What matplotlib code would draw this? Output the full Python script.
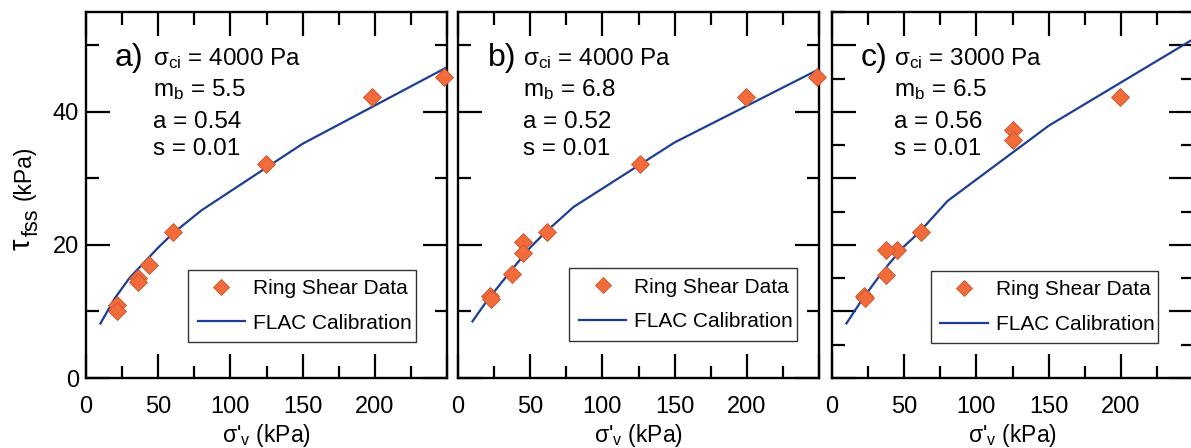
import matplotlib
matplotlib.use("Agg")
import matplotlib.pyplot as plt
from matplotlib.ticker import MultipleLocator, FuncFormatter

plt.rcParams['font.family'] = ['Liberation Sans', 'DejaVu Sans']
plt.rcParams['mathtext.default'] = 'regular'

# Ring shear measurements (effective vertical stress, steady-state shear strength)
ring_sigma_a = [248, 198.4, 124.8, 60.2, 43.7, 35.9, 36.3, 21.3, 21.3]
ring_tau_a = [45.3, 42.3, 32.2, 22.0, 17.0, 15.0, 14.4, 10.9, 10.1]

ring_sigma_b = [248.6, 199.5, 125.7, 61.6, 44.9, 44.9, 37.3, 22.2, 22.7]
ring_tau_b = [45.3, 42.3, 32.2, 22.0, 20.4, 18.8, 15.7, 12.3, 11.8]

ring_sigma_c = [199.3, 125.5, 125.5, 61.6, 44.9, 37.3, 37.3, 22.5, 22.9]
ring_tau_c = [42.3, 37.3, 35.7, 22.0, 19.3, 19.2, 15.5, 12.3, 12.0]

# FLAC calibration curves
flac_sigma = [10, 20, 30, 40, 50, 60, 80, 150, 250]
flac_tau_a = [8.2, 12.0, 15.0, 17.3, 19.6, 21.7, 25.2, 35.2, 46.7]
flac_tau_b = [8.5, 11.6, 14.3, 17.0, 19.6, 21.8, 25.7, 35.4, 46.4]
flac_tau_c = [8.2, 11.5, 14.5, 17.3, 19.8, 21.8, 26.6, 37.9, 50.9]

panel_tags = ["a)", "b)", "c)"]
sigma_ci = ["4000", "4000", "3000"]
m_b = ["5.5", "6.8", "6.5"]
a_vals = ["0.54", "0.52", "0.56"]
s_vals = ["0.01", "0.01", "0.01"]

x_ticklabels = ["0", "50", "100", "150", "200"]
y_ticklabels = ["0", "20", "40"]

DIAMOND = "#f26b3b"
DIAMOND_EDGE = "#c9542c"
LINE = "#1c3f95"

fig = plt.figure(figsize=(11.91, 4.48), dpi=100)
W, H = 1191, 448
ax_w = 361 / W
ax_h = 366 / H
bottom = 1 - 378 / H
lefts = [86 / W, 458 / W, 832 / W]

panels = [
    (ring_sigma_a, ring_tau_a, flac_tau_a),
    (ring_sigma_b, ring_tau_b, flac_tau_b),
    (ring_sigma_c, ring_tau_c, flac_tau_c),
]
tag_x = [0.080, 0.083, 0.078]
txt_x = [0.186, 0.179, 0.172]
leg_anchor = [(0.283, 0.098, 0.631, 0.211),
              (0.308, 0.102, 0.630, 0.211),
              (0.274, 0.095, 0.630, 0.211)]


def x_fmt(v, p):
    k = int(round(v / 50))
    return x_ticklabels[k] if 0 <= k < len(x_ticklabels) else ""


def y_fmt(v, p):
    k = int(round(v / 20))
    return y_ticklabels[k] if 0 <= k < len(y_ticklabels) else ""


for i, (rs, rt, ft) in enumerate(panels):
    ax = fig.add_axes([lefts[i], bottom, ax_w, ax_h])
    ax.plot(flac_sigma, ft, color=LINE, lw=1.6, label="FLAC Calibration", zorder=2)
    ax.plot(rs, rt, linestyle="none", marker="D", markersize=9.5,
            markerfacecolor=DIAMOND, markeredgecolor=DIAMOND_EDGE,
            markeredgewidth=0.6, label="Ring Shear Data", zorder=3,
            clip_on=False)
    ax.set_xlim(0, 250)
    ax.set_ylim(0, 55)

    ax.xaxis.set_major_locator(MultipleLocator(50))
    ax.xaxis.set_minor_locator(MultipleLocator(25))
    ax.xaxis.set_major_formatter(FuncFormatter(x_fmt))

    if i == 2:
        ax.yaxis.set_major_locator(MultipleLocator(10))
        ax.yaxis.set_minor_locator(MultipleLocator(5))
    else:
        ax.yaxis.set_major_locator(MultipleLocator(20))
        ax.yaxis.set_minor_locator(MultipleLocator(10))

    ax.tick_params(which="both", direction="in", top=True, right=True,
                   width=1.6, labelsize=17, color="black")
    ax.tick_params(which="major", length=17)
    ax.tick_params(which="minor", length=9)
    ax.tick_params(axis="x", pad=13)
    ax.tick_params(axis="y", pad=5)

    if i == 0:
        ax.yaxis.set_major_formatter(FuncFormatter(y_fmt))
    else:
        ax.set_yticklabels([])

    for sp in ax.spines.values():
        sp.set_linewidth(1.7)

    ax.set_xlabel("σ'$_{v}$ (kPa)", fontsize=16.5, labelpad=3)

    ax.text(tag_x[i], 0.852, panel_tags[i], transform=ax.transAxes,
            fontsize=23, va="baseline", ha="left")
    lines = [
        "σ$_{ci}$ = %s Pa" % sigma_ci[i],
        "m$_{b}$ = %s" % m_b[i],
        "a = %s" % a_vals[i],
        "s = %s" % s_vals[i],
    ]
    ys = [0.855, 0.770, 0.682, 0.609]
    for t, y in zip(lines, ys):
        ax.text(txt_x[i], y, t, transform=ax.transAxes, fontsize=17.5,
                va="baseline", ha="left")

    handles, labels = ax.get_legend_handles_labels()
    leg = ax.legend(handles[::-1], labels[::-1], loc="lower left",
                    bbox_to_anchor=leg_anchor[i], mode="expand",
                    fontsize=15, frameon=True, fancybox=False,
                    edgecolor="black", handlelength=2.3, handletextpad=0.38,
                    borderpad=0.45, labelspacing=0.75, borderaxespad=0,
                    markerscale=0.85)
    leg.get_frame().set_linewidth(1.0)

# shared y-axis title, built from pieces so the symbol and subscript sizes can differ
common = dict(rotation=90, rotation_mode="anchor", ha="left", va="baseline")
fig.text(30 / W, 1 - 250 / H, "τ", fontsize=21, **common)
fig.text(38 / W, 1 - 236 / H, "fss", fontsize=15.5, **common)
fig.text(31 / W, 1 - 200 / H, "(kPa)", fontsize=16.5, **common)

fig.savefig("out.png", dpi=100)
